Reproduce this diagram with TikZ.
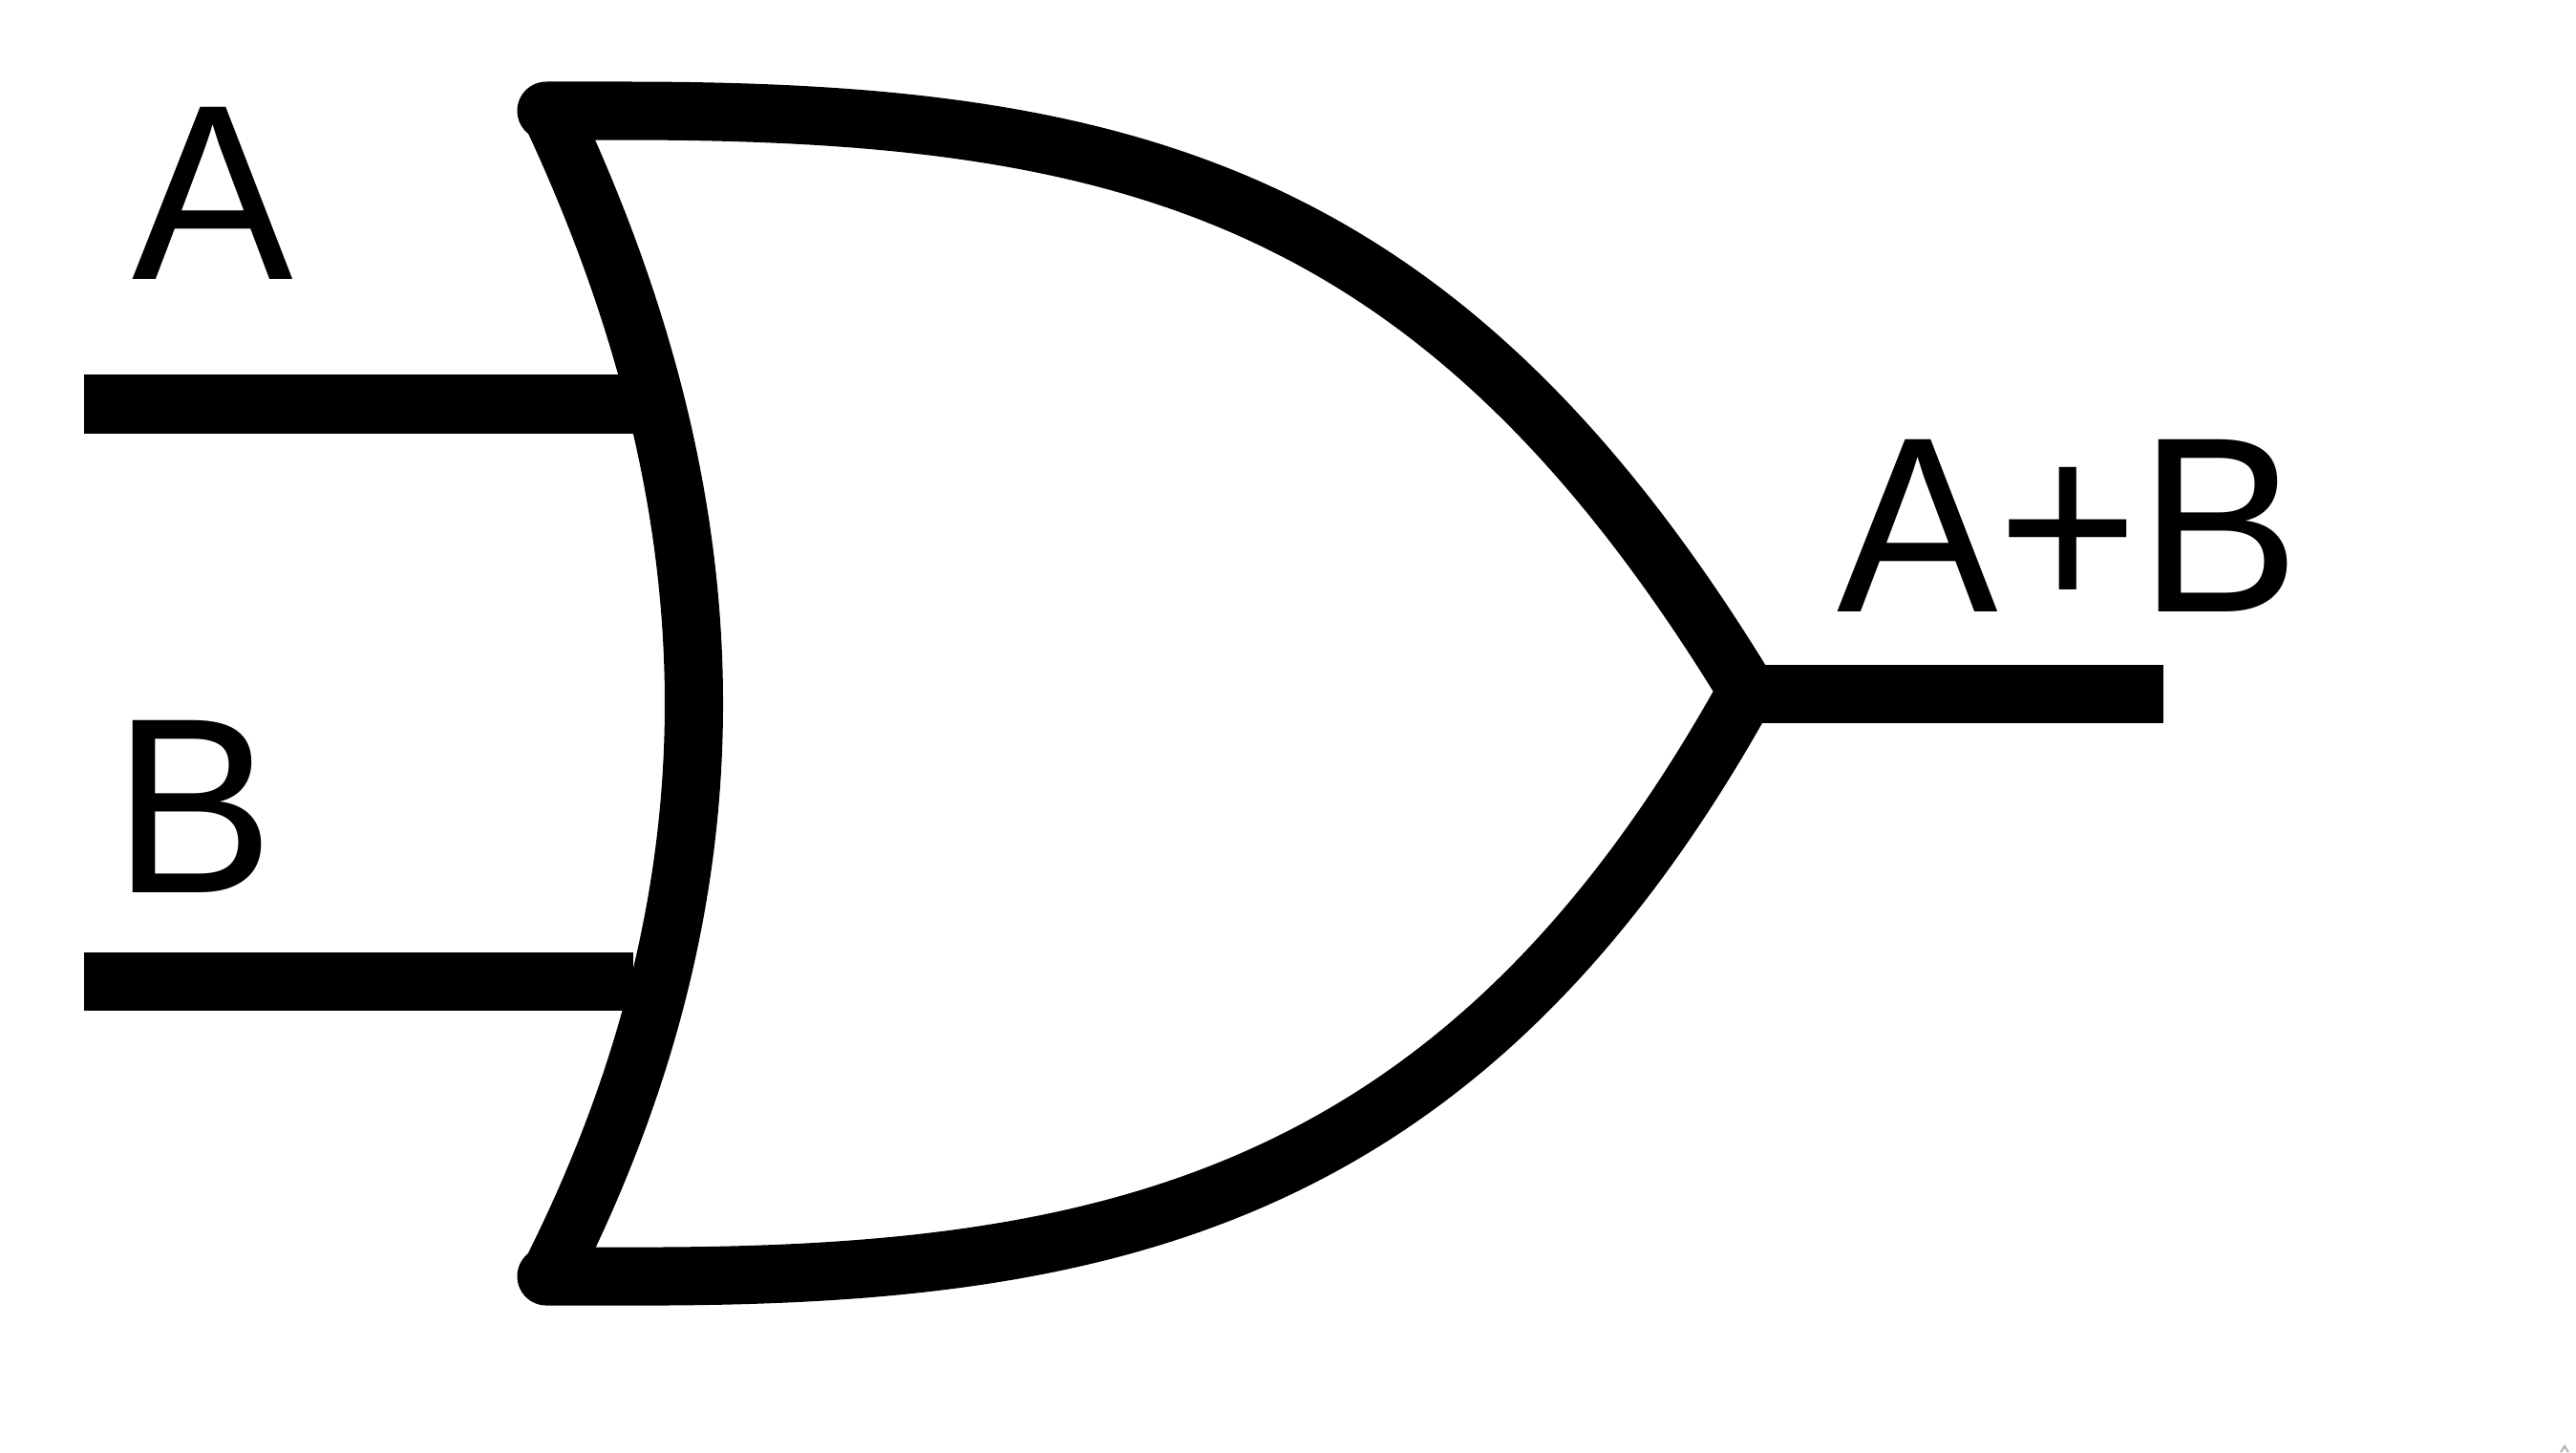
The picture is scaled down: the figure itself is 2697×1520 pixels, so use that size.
\documentclass[tikz,border=0pt]{standalone}
\usepackage{graphicx}
\usepackage{fontspec}
\setmainfont{Liberation Sans}
\newcommand{\labtext}[1]{\scalebox{.965}[1]{#1}}
\tikzset{
  gatestroke/.style={draw=black,line width=0.61cm},
  lab/.style={inner sep=0pt,outer sep=0pt,anchor=base west,font=\fontsize{74.5}{75}\selectfont,text=black}
}
\begin{document}
\begin{tikzpicture}[x=0.01cm,y=-0.01cm]
\useasboundingbox[fill=white] (0,0) rectangle (2697,1520);
\coordinate (topstart) at (572,116);
\coordinate (botstart) at (572,1336);
\coordinate (tip) at (1829,723);
\coordinate (backtop) at (578,121);
\coordinate (backbot) at (578,1330);
\coordinate (ainl) at (88,423);
\coordinate (ainr) at (670,423);
\coordinate (binl) at (88,1027);
\coordinate (binr) at (663,1027);
\coordinate (outr) at (2265,726);
\coordinate (outl) at (1805,726);
% wires
\draw[gatestroke] (ainl) -- (ainr);
\draw[gatestroke] (binl) -- (binr);
\draw[gatestroke] (outl) -- (outr);
% back arc
\draw[gatestroke] (backtop) .. controls (776,545) and (776,935) .. (backbot);
% outer shield
\draw[gatestroke,line cap=round,line join=miter,miter limit=10]
  (topstart) -- (654,116) .. controls (1180,116) and (1510,200) .. (tip)
  .. controls (1529,1265) and (1150,1338) .. (654,1336) -- (botstart);
% labels
\node[lab] (la) at (138,292) {\labtext{A}};
\node[lab] (lb) at (118,934) {\labtext{B}};
\node[lab] (lout) at (1923,640) {\labtext{A+B}};
% corner mark
\draw[draw=black!30,line width=0.02cm] (2681,1520) -- (2685,1514) -- (2689,1520);
\end{tikzpicture}
\end{document}
